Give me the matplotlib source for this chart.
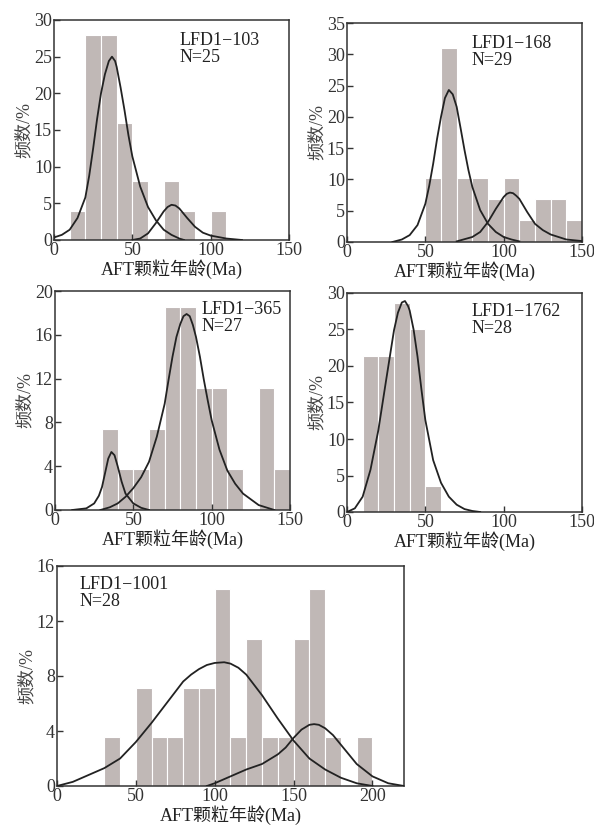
import numpy as np
import matplotlib
matplotlib.use("Agg")
import matplotlib.pyplot as plt

plt.rcParams.update({
    "font.family": ["Liberation Serif", "Noto Sans CJK SC"],
    "font.size": 13,
    "axes.linewidth": 1.1,
    "axes.edgecolor": "#333333",
    "xtick.direction": "in",
    "ytick.direction": "in",
    "xtick.major.size": 4,
    "ytick.major.size": 4,
    "xtick.major.pad": 1.5,
    "ytick.major.pad": 1.5,
    "xtick.color": "#333333",
    "ytick.color": "#333333",
    "axes.unicode_minus": True,
})

BAR_COLOR = "#c0b8b6"
LINE_COLOR = "#222222"

# ---- LFD1-103 ----
s103_bins = [10, 20, 30, 40, 50, 60, 70, 80, 90, 100]
s103_freq = [4, 28, 28, 16, 8, 0, 8, 4, 0, 4]
s103_c1_x = [0, 5, 10, 15, 20, 22.5, 25, 27.5, 30, 32.5, 35, 37, 39, 40, 42.5, 45, 47.5, 50, 55, 60, 65, 70, 75, 80, 83]
s103_c1_y = [0.35, 0.7, 1.4, 3.0, 5.8, 8.8, 12.5, 16.5, 20.0, 22.6, 24.4, 25.0, 24.4, 23.6, 20.8, 17.7, 14.3, 11.4, 7.3, 4.5, 2.7, 1.4, 0.7, 0.2, 0.0]
s103_c2_x = [50, 55, 60, 65, 70, 72.5, 75, 77.5, 80, 85, 90, 95, 100, 110, 120]
s103_c2_y = [0.0, 0.2, 0.9, 2.3, 3.9, 4.5, 4.8, 4.7, 4.3, 3.0, 1.8, 1.0, 0.6, 0.2, 0.0]

# ---- LFD1-168 ----
s168_bins = [50, 60, 70, 80, 90, 100, 110, 120, 130, 140]
s168_freq = [10.3, 31.0, 10.3, 10.3, 6.9, 10.3, 3.45, 6.9, 6.9, 3.45]
s168_c1_x = [29, 35, 40, 45, 50, 52.5, 55, 57.5, 60, 62.5, 65, 67.5, 70, 72.5, 75, 77.5, 80, 85, 90, 95, 100, 105, 110]
s168_c1_y = [0.0, 0.4, 1.1, 2.7, 6.1, 9.0, 12.5, 16.5, 20.0, 23.0, 24.3, 23.6, 21.6, 18.2, 14.7, 11.5, 8.8, 5.1, 2.9, 1.6, 0.8, 0.4, 0.1]
s168_c2_x = [70, 80, 85, 90, 95, 100, 102, 104, 106, 108, 110, 115, 120, 125, 130, 140, 150]
s168_c2_y = [0.1, 0.8, 1.6, 3.2, 5.3, 7.2, 7.7, 7.9, 7.8, 7.4, 6.9, 4.8, 2.9, 1.9, 1.2, 0.4, 0.15]

# ---- LFD1-365 ----
s365_bins = [30, 40, 50, 60, 70, 80, 90, 100, 110, 120, 130, 140]
s365_freq = [7.4, 3.7, 3.7, 7.4, 18.5, 18.5, 11.1, 11.1, 3.7, 0, 11.1, 3.7]
s365_c1_x = [11, 20, 25, 28, 30, 32, 34, 36, 38, 40, 42.5, 45, 50, 55, 60]
s365_c1_y = [0.0, 0.15, 0.6, 1.3, 2.1, 3.4, 4.7, 5.3, 5.0, 4.0, 2.6, 1.5, 0.6, 0.2, 0.0]
s365_c2_x = [29, 35, 40, 45, 50, 55, 60, 65, 70, 72.5, 75, 77.5, 80, 82, 84, 86, 88, 90, 92.5, 95, 97.5, 100, 105, 110, 115, 120, 130, 140]
s365_c2_y = [0.0, 0.25, 0.6, 1.2, 2.0, 3.0, 4.4, 6.7, 9.7, 11.9, 14.0, 15.8, 17.0, 17.7, 17.9, 17.7, 16.9, 15.8, 14.0, 11.9, 10.0, 8.2, 5.5, 3.6, 2.4, 1.5, 0.45, 0.0]

# ---- LFD1-1762 ----
s1762_bins = [10, 20, 30, 40, 50]
s1762_freq = [21.4, 21.4, 28.6, 25.0, 3.57]
s1762_c1_x = [0, 5, 10, 15, 20, 25, 30, 32.5, 35, 37, 39, 40, 42.5, 45, 47.5, 50, 55, 60, 65, 70, 75, 80, 85]
s1762_c1_y = [0.0, 0.5, 2.1, 5.8, 11.2, 18.1, 24.9, 27.3, 28.7, 28.9, 28.2, 27.6, 25.0, 21.3, 16.8, 12.6, 7.1, 4.0, 2.1, 1.0, 0.4, 0.14, 0.0]

# ---- LFD1-1001 ----
s1001_bins = [30, 40, 50, 60, 70, 80, 90, 100, 110, 120, 130, 140, 150, 160, 170, 180, 190]
s1001_freq = [3.57, 0, 7.14, 3.57, 3.57, 7.14, 7.14, 14.3, 3.57, 10.7, 3.57, 3.57, 10.7, 14.3, 3.57, 0, 3.57]
s1001_c1_x = [0, 10, 20, 30, 40, 50, 60, 70, 80, 85, 90, 95, 100, 106, 110, 115, 120, 130, 140, 150, 160, 170, 180, 190, 200]
s1001_c1_y = [0.0, 0.3, 0.8, 1.3, 2.0, 3.2, 4.6, 6.1, 7.6, 8.1, 8.5, 8.8, 8.95, 9.0, 8.9, 8.6, 8.1, 6.6, 4.9, 3.3, 2.0, 1.2, 0.6, 0.2, 0.0]
s1001_c2_x = [95, 100, 110, 120, 130, 140, 145, 150, 155, 160, 163, 166, 170, 175, 180, 190, 200, 210, 220]
s1001_c2_y = [0.0, 0.2, 0.7, 1.2, 1.6, 2.3, 2.8, 3.5, 4.1, 4.45, 4.5, 4.45, 4.2, 3.7, 3.0, 1.6, 0.7, 0.2, 0.0]

panels = [
    # name, n, bins, freq, curves, ymax, yticks, xmax, xticks, label pos, axes rect (px)
    ("LFD1\u2212103", 25, s103_bins, s103_freq,
     [(s103_c1_x, s103_c1_y), (s103_c2_x, s103_c2_y)],
     30, [0, 5, 10, 15, 20, 25, 30], 150, [0, 50, 100, 150], (0.535, 0.945), (54, 20, 289, 240)),
    ("LFD1\u2212168", 29, s168_bins, s168_freq,
     [(s168_c1_x, s168_c1_y), (s168_c2_x, s168_c2_y)],
     35, [0, 5, 10, 15, 20, 25, 30, 35], 150, [0, 50, 100, 150], (0.53, 0.945), (347, 23, 582, 242)),
    ("LFD1\u2212365", 27, s365_bins, s365_freq,
     [(s365_c1_x, s365_c1_y), (s365_c2_x, s365_c2_y)],
     20, [0, 4, 8, 12, 16, 20], 150, [0, 50, 100, 150], (0.625, 0.955), (55, 291, 290, 510)),
    ("LFD1\u22121762", 28, s1762_bins, s1762_freq,
     [(s1762_c1_x, s1762_c1_y)],
     30, [0, 5, 10, 15, 20, 25, 30], 150, [0, 50, 100, 150], (0.53, 0.955), (347, 293, 582, 512)),
    ("LFD1\u22121001", 28, s1001_bins, s1001_freq,
     [(s1001_c1_x, s1001_c1_y), (s1001_c2_x, s1001_c2_y)],
     16, [0, 4, 8, 12, 16], 220, [0, 50, 100, 150, 200], (0.065, 0.955), (57, 566, 404, 786)),
]

W, H = 594, 827
fig = plt.figure(figsize=(W / 100, H / 100), dpi=100)

for name, n, bins, freq, curves, ymax, yticks, xmax, xticks, lpos, rect in panels:
    l, t, r, b = rect
    ax = fig.add_axes([l / W, 1 - b / H, (r - l) / W, (b - t) / H])

    ax.bar(bins, freq, width=10, align="edge", color=BAR_COLOR,
           edgecolor="white", linewidth=0.8, zorder=1)
    for cx, cy in curves:
        ax.plot(cx, cy, color=LINE_COLOR, lw=1.3, zorder=3, solid_joinstyle="round")

    ax.set_xlim(0, xmax)
    ax.set_ylim(0, ymax)
    ax.set_xticks(xticks)
    ax.set_yticks(yticks)
    ax.tick_params(labelsize=13, width=1.0)

    ax.set_xlabel("AFT颗粒年龄(Ma)", fontsize=13, labelpad=0, color="#222222")
    ax.set_ylabel("频数/%", fontsize=13, labelpad=1, color="#444444")

    ax.text(lpos[0], lpos[1], name + "\nN=%d" % n, transform=ax.transAxes,
            fontsize=13, va="top", ha="left", linespacing=1.0, color="#222222")

fig.savefig("out.png", dpi=100)
